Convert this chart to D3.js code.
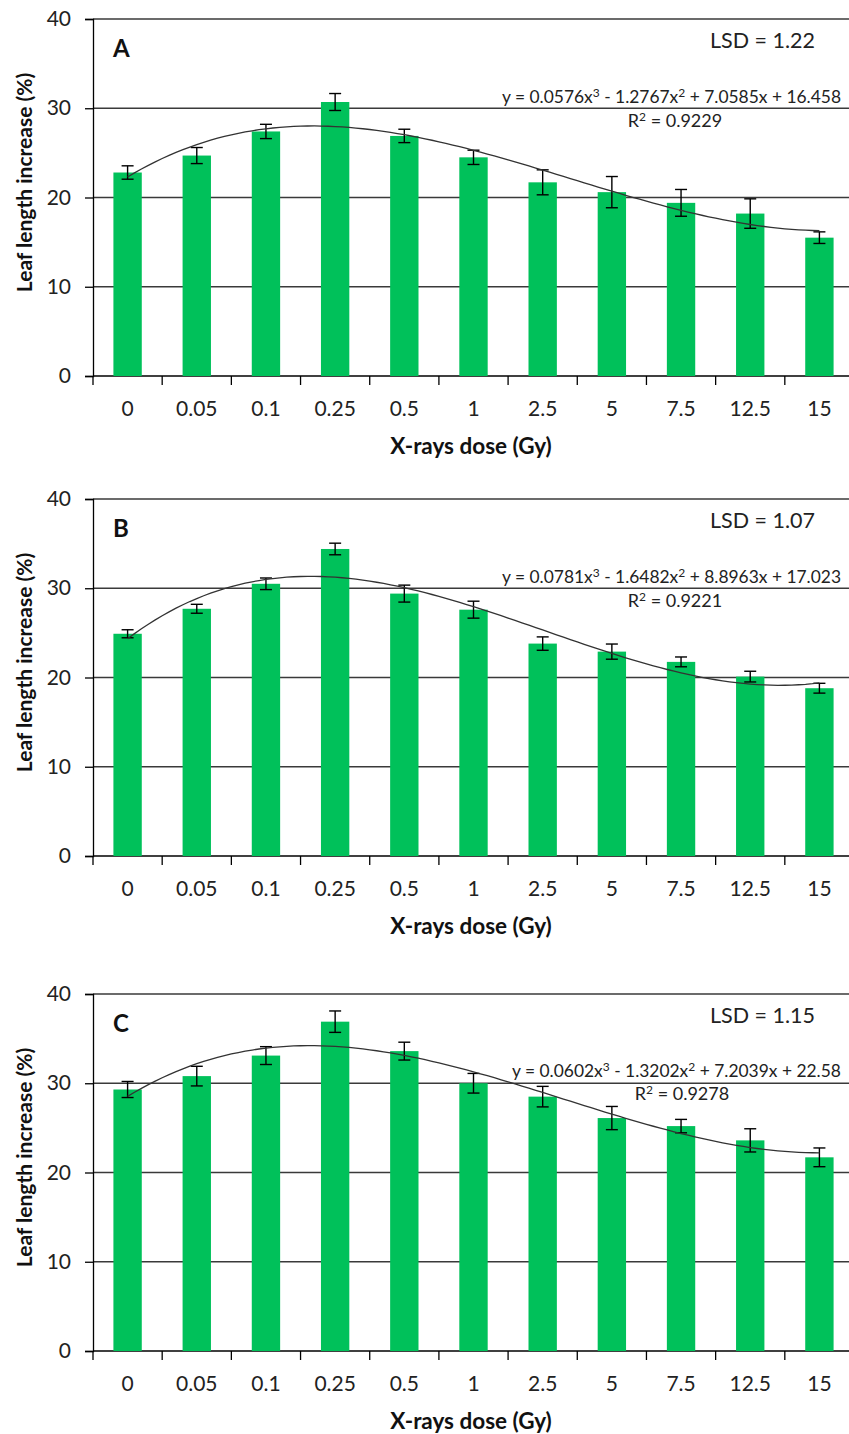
<!DOCTYPE html>
<html>
<head>
<meta charset="utf-8">
<script src="https://d3js.org/d3.v7.min.js"></script>
<style>
  body { margin: 0; background: #fff; }
  svg { display: block; font-family: Lato, "Open Sans", sans-serif; }
</style>
</head>
<body>
<script>
const doses = ['0', '0.05', '0.1', '0.25', '0.5', '1', '2.5', '5', '7.5', '12.5', '15'];
const yTicks = [0, 10, 20, 30, 40];

const valuesA = [22.8, 24.7, 27.4, 30.7, 26.9, 24.5, 21.7, 20.6, 19.4, 18.2, 15.5];
const errorsA = [0.75, 0.9, 0.8, 0.95, 0.75, 0.8, 1.4, 1.75, 1.5, 1.65, 0.65];
const coefsA = [0.0576, -1.2767, 7.0585, 16.458];

const valuesB = [24.9, 27.7, 30.5, 34.4, 29.4, 27.6, 23.8, 22.9, 21.75, 20.1, 18.8];
const errorsB = [0.45, 0.5, 0.65, 0.65, 0.95, 0.95, 0.75, 0.85, 0.55, 0.6, 0.55];
const coefsB = [0.0781, -1.6482, 8.8963, 17.023];

const valuesC = [29.3, 30.8, 33.1, 36.9, 33.6, 30.0, 28.5, 26.1, 25.2, 23.6, 21.7];
const errorsC = [0.9, 1.1, 1.0, 1.2, 1.0, 1.1, 1.15, 1.3, 0.75, 1.3, 1.05];
const coefsC = [0.0602, -1.3202, 7.2039, 22.58];

const panels = [
  { letter: 'A', values: valuesA, errors: errorsA, coefs: coefsA,
    eq: ['y = 0.0576x', '3', ' - 1.2767x', '2', ' + 7.0585x + 16.458'], r2: '0.9229', lsd: 'LSD = 1.22' },
  { letter: 'B', values: valuesB, errors: errorsB, coefs: coefsB,
    eq: ['y = 0.0781x', '3', ' - 1.6482x', '2', ' + 8.8963x + 17.023'], r2: '0.9221', lsd: 'LSD = 1.07' },
  { letter: 'C', values: valuesC, errors: errorsC, coefs: coefsC,
    eq: ['y = 0.0602x', '3', ' - 1.3202x', '2', ' + 7.2039x + 22.58'], r2: '0.9278', lsd: 'LSD = 1.15' },
];

const W = 849, H = 1434;
const left = 93, right = 854;
const tops = [19, 499, 994];
const plotH = 357;

const svg = d3.select('body').append('svg')
  .attr('width', W)
  .attr('height', H);

const x = d3.scaleBand()
  .domain(doses)
  .range([left, right])
  .paddingInner(0.59)
  .paddingOuter(0.295);

const green = '#00c15a';

panels.forEach((p, k) => {
  const top = tops[k];
  const bottom = top + plotH;
  const g = svg.append('g');

  const y = d3.scaleLinear().domain([0, 40]).range([bottom, top]);

  // gridlines
  g.selectAll('.grid')
    .data(yTicks)
    .enter().append('line')
    .attr('x1', left).attr('x2', W)
    .attr('y1', d => y(d)).attr('y2', d => y(d))
    .attr('stroke', d => d === 0 ? '#000' : '#3a3a3a')
    .attr('stroke-width', 1.3);

  // y axis
  const yAxis = g.append('g')
    .attr('transform', `translate(${left},0)`)
    .call(d3.axisLeft(y).tickValues(yTicks).tickSize(8).tickPadding(14));
  yAxis.select('.domain').attr('stroke', '#000').attr('stroke-width', 1.3);
  yAxis.selectAll('.tick line').attr('stroke', '#000').attr('stroke-width', 1.3);
  yAxis.selectAll('.tick text')
    .attr('font-size', 21)
    .attr('fill', '#222')
    .style('font-family', 'Lato, sans-serif');

  // bars
  g.selectAll('.bar')
    .data(p.values)
    .enter().append('rect')
    .attr('x', (d, i) => x(doses[i]))
    .attr('width', x.bandwidth())
    .attr('y', d => y(d))
    .attr('height', d => y(0) - y(d))
    .attr('fill', green);

  // x axis ticks at band boundaries
  const edges = doses.map(d => x(d) - x.step() * x.paddingOuter());
  g.selectAll('.xtick')
    .data(edges)
    .enter().append('line')
    .attr('x1', d => d).attr('x2', d => d)
    .attr('y1', y(0)).attr('y2', y(0) + 9)
    .attr('stroke', '#000')
    .attr('stroke-width', 1.3);

  g.selectAll('.xlabel')
    .data(doses)
    .enter().append('text')
    .attr('x', d => x(d) + x.bandwidth() / 2)
    .attr('y', y(0) + 40)
    .attr('text-anchor', 'middle')
    .attr('font-size', 21)
    .attr('fill', '#222')
    .text(d => d);

  // error bars
  const eb = g.selectAll('.err')
    .data(p.values.map((v, i) => ({ v, e: p.errors[i], c: x(doses[i]) + x.bandwidth() / 2 })))
    .enter().append('g');
  eb.append('line')
    .attr('x1', d => d.c).attr('x2', d => d.c)
    .attr('y1', d => y(d.v + d.e)).attr('y2', d => y(d.v - d.e));
  eb.append('line')
    .attr('x1', d => d.c - 6).attr('x2', d => d.c + 6)
    .attr('y1', d => y(d.v + d.e)).attr('y2', d => y(d.v + d.e));
  eb.append('line')
    .attr('x1', d => d.c - 6).attr('x2', d => d.c + 6)
    .attr('y1', d => y(d.v - d.e)).attr('y2', d => y(d.v - d.e));
  eb.selectAll('line').attr('stroke', '#000').attr('stroke-width', 1.4);

  // polynomial trendline from the printed coefficients
  const xt = d3.scaleLinear()
    .domain([1, doses.length])
    .range([x(doses[0]) + x.bandwidth() / 2, x(doses[doses.length - 1]) + x.bandwidth() / 2]);
  const [a, b, c, d0] = p.coefs;
  const ts = d3.range(1, doses.length + 0.001, 0.1);
  g.append('path')
    .datum(ts)
    .attr('fill', 'none')
    .attr('stroke', '#333')
    .attr('stroke-width', 1.3)
    .attr('d', d3.line()
      .x(t => xt(t))
      .y(t => y(a * t * t * t + b * t * t + c * t + d0)));

  // panel letter
  g.append('text')
    .attr('x', 113)
    .attr('y', top + 38)
    .attr('font-size', 24)
    .attr('font-weight', 'bold')
    .attr('fill', '#111')
    .text(p.letter);

  // LSD
  g.append('text')
    .attr('x', 710)
    .attr('y', top + 29)
    .attr('font-size', 21.5)
    .attr('fill', '#222')
    .text(p.lsd);

  // equation
  const eq = g.append('text')
    .attr('x', k === 2 ? 512 : 502)
    .attr('y', k === 2 ? top + 83 : top + 84)
    .attr('font-size', 17.4)
    .attr('fill', '#222');
  p.eq.forEach((s, i) => {
    const isSup = i === 1 || i === 3;
    eq.append('tspan')
      .attr('font-size', isSup ? 12 : 17.4)
      .attr('dy', isSup ? -6 : (i > 0 ? 6 : 0))
      .text(s);
  });

  const r2 = g.append('text')
    .attr('x', k === 2 ? 682 : 675)
    .attr('y', k === 2 ? top + 106 : top + 108)
    .attr('text-anchor', 'middle')
    .attr('font-size', 18)
    .attr('fill', '#222');
  r2.append('tspan').text('R');
  r2.append('tspan').attr('font-size', 12).attr('dy', -6).text('2');
  r2.append('tspan').attr('dy', 6).text(' = ' + p.r2);

  // axis titles
  g.append('text')
    .attr('x', 471)
    .attr('y', y(0) + 78)
    .attr('text-anchor', 'middle')
    .attr('font-size', 22.5)
    .attr('font-weight', 'bold')
    .attr('fill', '#111')
    .text('X-rays dose (Gy)');

  g.append('text')
    .attr('transform', `translate(32, ${(top + bottom) / 2 - 15}) rotate(-90)`)
    .attr('text-anchor', 'middle')
    .attr('font-size', 21)
    .attr('font-weight', 'bold')
    .attr('fill', '#111')
    .text('Leaf length increase (%)');
});
</script>
</body>
</html>
